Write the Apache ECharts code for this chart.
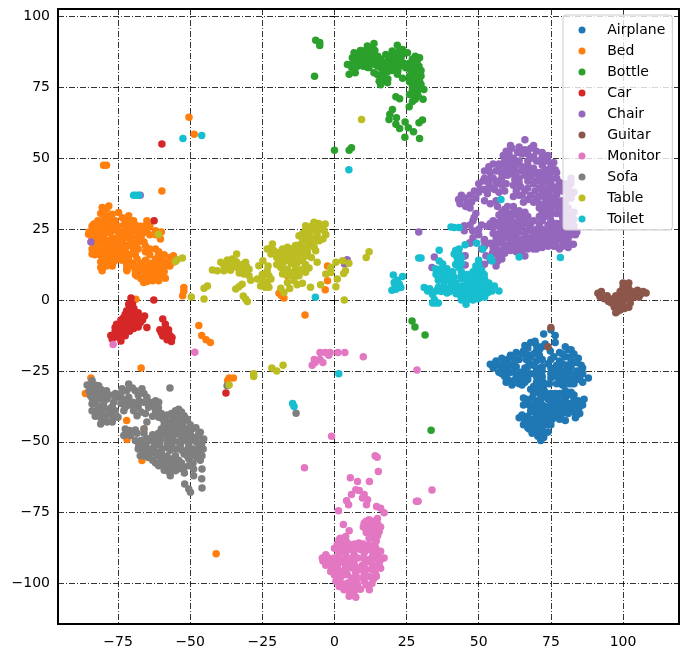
<!DOCTYPE html>
<html>
<head>
<meta charset="utf-8">
<script src="https://cdn.jsdelivr.net/npm/echarts@6/dist/echarts.min.js"></script>
<style>
  html, body { margin: 0; padding: 0; background: #fff; }
  #chart { width: 687px; height: 659px; }
</style>
</head>
<body>
<div id="chart"></div>
<script>
// values
const xTicks = [-75, -50, -25, 0, 25, 50, 75, 100];
const yTicks = [-100, -75, -50, -25, 0, 25, 50, 75, 100];
const names = ["Airplane", "Bed", "Bottle", "Car", "Chair", "Guitar", "Monitor", "Sofa", "Table", "Toilet"];
const colors = ["#1f77b4", "#ff7f0e", "#2ca02c", "#d62728", "#9467bd", "#8c564b", "#e377c2", "#7f7f7f", "#bcbd22", "#17becf"];

const airplane = [
  [54,-22.6],[56,-21.5],[55,-24],[57.5,-23],[58,-20.5],[60,-21],[59.5,-24.5],[57,-25.5],[59,-27],[61,-25.5],[62,-28.5],[59.5,-29],[61.5,-30],[64,-29.5],[66,-29],[63,-27],[64.5,-25.5],[62,-23],[61,-19.5],[63,-18.5],[64,-21],[65.5,-18],[66,-16],[68,-15],[69.5,-14.5],[66.5,-21],[66,-24],[68,-26],[69,-23],[68,-20],[70,-18],[70,-16],[72,-16.5],[73,-15.5],[72.5,-12],[75,-10.5],[76.5,-12.5],[76.5,-15],[74.8,-18],[76,-20],[74,-22.5],
  [78,-18.5],[81,-17.5],[80,-20],[78,-21.5],[83,-19],[84.5,-20.5],[85.5,-23],[83,-22],[80.5,-23],[78,-24],[77,-27],[79,-26],[81.5,-25.5],[84,-25],[86,-26],[88,-27.5],[86,-29],[84,-28],[82,-28],[80,-29],[77,-29.5],
  [72,-27],[71,-30],[72.5,-31.5],[74.5,-29.5],[70,-32],[69,-30.5],
  [65.5,-34.5],[68,-31.5],[66.5,-35],[68.5,-34.5],[67.5,-37],[65.5,-37],[69,-37],[71.5,-35],[73,-34],[75,-36],[73,-37.5],[71,-38.5],[68,-39],[70,-41],[72,-41],[74,-40],[76,-38.5],[75.5,-42],
  [64,-41.5],[66,-42],[65.5,-44],[68,-43],[70,-43],[72,-44],[67.5,-45.5],[69.5,-46],[71.5,-46.5],[74,-44],[74,-46.5],[70.5,-48],[72.5,-48.5],[71.5,-49.5],[73,-47],
  [78,-33],[80,-32],[82,-32.5],[80,-34.5],[77.5,-35.5],[77,-38],[79,-37],[81,-36.5],[83,-35],[84.5,-35.5],[86.5,-35],[86,-37],[84.5,-38.5],[83.5,-41.5],[82,-39],[78,-40],[80,-42.5],[76.5,-33],[75,-33],
  [67,-17],[71,-17.5],[80,-16.5],[82,-17.5],[62,-20],[65,-19],[67,-19.5],[69,-19],[71,-19.5],[79,-19],[82,-20],[56,-23],[59,-22],[62.5,-21.5],[67.5,-22],[70,-21.5],[72,-21],[75,-21],[82,-21.5],[84,-22],
  [55.5,-22.5],[58,-24],[60.5,-23],[63,-23.5],[67,-23.5],[70,-24],[72,-23.5],[75,-24],[77,-23],[79,-22.5],[82,-23.5],[86,-24],[58,-26],[60,-26],[62,-25],[65,-26.5],[67,-26],[70,-25.5],[72,-25],[75,-26],[77,-25],[80,-25],[83,-26.5],[85,-27],
  [60,-28],[64,-27.5],[66,-27],[70,-27],[72,-28.5],[75,-27.5],[78,-28],[80,-27],[82,-29.5],[85,-28],[63,-29],[65,-30],[67,-28],[70,-29],[73,-29.5],[79,-30],[81,-29.5],[83,-29.5],
  [69,-33],[71,-33],[73,-32.5],[74.5,-33.5],[77,-34],[79,-33.5],[81,-33.5],[83,-33.5],[67,-35.5],[70,-35.5],[74,-35],[76,-35],[78,-36],[80,-36],[82,-36.5],[84,-37],[70,-37.5],[72,-37],[74,-38],[76,-37],[78,-38],[80,-38],[82,-37.5],[85,-37.5],
  [69,-39.5],[71,-40],[73,-39.5],[75,-40.5],[77,-40],[79,-40],[81,-40],[83,-39.5],[85,-40],[65,-40.5],[67,-41],[69,-42],[74,-42],[76,-41],[78,-42],[84,-40.5],[66,-43],[68,-44.5],[71,-42.5],[73,-43],[75,-44],[67,-45],[70,-45],[72,-45.5],[68.5,-47],[71,-47.5]
];
const bed = [
  [-78.2,33.2],[-80.5,32.6],[-80,29.7],[-77,30.3],[-74.8,30.9],[-71.3,29.7],[-65,28],[-67.3,26],[-69.6,28],[-72.5,28],[-83.4,26.8],[-81,27.4],[-78.8,26.8],[-76.5,26.2],[-85.2,23.2],[-82.9,23.8],[-80.5,24.4],[-78.2,23.8],[-74.8,23.8],[-72.5,25],[-70.1,24.4],[-67.8,23.8],[-65,24.4],[-62,24.4],[-60.3,21.5],
  [-83,21],[-81,20.9],[-78.5,21],[-76.5,20.5],[-73.5,21],[-70.5,21],[-68.2,20.4],[-84,16.2],[-81.8,17.5],[-79.5,18],[-77,17.5],[-74.8,18],[-72.5,17.5],[-69.6,17.5],[-65.5,19.1],[-65.5,17],[-62,18],[-60.9,17],
  [-81,11.5],[-80.5,10.3],[-78.2,13],[-76.5,13.5],[-73.6,14],[-71.3,14],[-68.4,14.5],[-65.5,14],[-62,14.4],[-59.8,15],[-55.8,15.6],[-55.6,13.4],[-80,14],[-63,11.5],[-60.9,12],[-58.6,12.6],[-71.9,10.3],[-68.4,8.5],[-66.1,6.2],[-64.4,8.5],[-62,8],[-60.9,6.8],[-58.6,7.7],[-67,10.3],[-65.3,10.3],
  [-52.2,4.4],[-52.2,3.2],[-52.6,1.5],[-59.8,38.5],[-68.8,0.3],
  [-80,47.5],[-79,47.5],[-50.4,64.5],[-48.6,58.5],[-47,-9],[-44.5,-14],[-43,-15],[-46,-12.5],[-36.5,-27.5],[-35,-27.5],[-41,-89.5],
  [-84.4,-27.5],[-86.3,-33],[-67,-24],[-72,-42.5],[-71.9,-49.2],[-66.7,-56.6],[-66,-45.4],[-37,-28.4],
  [-19.2,2.4],[-17.5,0.7],[-18.4,1.6],[-2.4,12],[-2.4,6.8],[-3.2,3.6],[-16.3,8.6],[-10.2,-5.3],
  [-79,32],[-81,30.5],[-78.5,29.5],[-82,28],[-80,28],[-78,28],[-76,28],[-73.5,29],[-71,28],[-69,26.5],[-84,26],[-82,26],[-80,26],[-78,25.5],[-75,26],[-73,26.5],[-71,26],[-66,26],[-64,26],[-85,24],[-83,24.8],[-81,23],[-79,24.8],[-77,24.5],[-75.5,24.8],[-73,23.5],[-71,23],[-69,24.5],[-66.5,23.5],[-64,23],[-62,23],[-60,24],
  [-84,22],[-82,22],[-80,22.3],[-77,22],[-75,22],[-73,22],[-71,21.5],[-69,22],[-67,22],[-83,20],[-80,19.8],[-78,19.5],[-75,20],[-73,19.5],[-71,19.5],[-69,19],[-66,20.5],[-84,18],[-82,18.8],[-80,16.5],[-78,18],[-76,18.8],[-74,16.5],[-72,19],[-70,18.8],[-68,18],[-64,18],
  [-83,16],[-81,15.8],[-79,16],[-77,15.8],[-75,16],[-73,15.8],[-71,16],[-69,16],[-64,16],[-61,15.8],[-59,16],[-57,15],[-81,13.5],[-79,14],[-77,14.5],[-75,14.5],[-72.5,15],[-70,13],[-67,13],[-64,13],[-61,14],[-59,13.5],[-57,13.5],
  [-79,12],[-77,12],[-72,12.5],[-70,12],[-68,12],[-65,12],[-62,12.5],[-59,11.5],[-57,12],[-72,11],[-69,10.5],[-66,11],[-63,10],[-61,10],[-59,10],[-69,9],[-66,8.5],[-63,8.5],[-60,8.5],[-65,6.5],[-63,6.8],[-67,7.5]
];
const bottle = [
  [-6.5,91.6],[-5.1,90.8],[-5.1,89.8],[-6.9,78.9],
  [13.7,90.5],[11.4,89.6],[10.3,87.8],[6.8,87.2],[6.2,85.5],[4.5,83.1],[6.8,83],[9,86],[12,86.6],[13.2,87.8],[12.6,84.3],[10.9,83.7],[9.1,83.7],[14.3,83],[13.7,80.2],[16,81.9],[17.8,86.6],[20,87.8],[21.8,89.9],[23.6,88.4],[25.3,87.2],[18.4,84.3],[21.3,84.9],[20,82.5],[22.4,82.5],[24.7,81.9],[17,81],[18.4,80.5],[15.5,77.2],[18.4,76.6],[16,75.9],[5.1,79.6],[7.2,80.2],[21.8,79.6],[23.6,78.2],[11.5,82],
  [27,85],[28.7,84.5],[27.5,83],[29.3,82.5],[27,80.5],[28.7,80],[27.5,77.8],[29.5,77.2],[27,75.5],[29.3,75],[31,74.3],[27,74.3],[28.7,73.5],[27.7,72],[28,70.8],[30.7,70.8],
  [21.3,71.7],[22.6,71],[25.9,68.2],[20.1,67.2],[19.2,65.5],[18.9,63.7],[21.5,64.3],[21.3,62],[22.6,60.5],[24.5,62.8],[25.6,60.8],[27.4,59.4],[29.3,62.5],[30.5,63.5],[24.4,57.4],[29.5,57],
  [0,52.8],[5.1,52.8],[5.9,53.7],[26.9,-7.4],[27.9,-9.5],[31.4,-12.3],[33.5,-45.9],
  [11,88],[12.5,89],[14,88],[8,85],[10,85.5],[14,85.5],[15,86],[7,84.5],[6,82],[8,82.5],[10,82.5],[12,82],[13,84],[15.5,84],[17,83],[19,83.5],[18,82],[20,84],[22,86],[23,85],[24,83.5],[19,86],[21,87],[23.5,86.5],[15,82.5],[17,79.5],[15,79.5],[18.5,78],[16.5,77.5],[20,81],[22,81],
  [26,83.5],[28,86],[29.5,85.5],[26,81.5],[28,81.5],[30,81],[26,79],[28,78.8],[30,79],[26,77],[28,76.5],[30,76],[26,72.5],[29,72],[27,70],
  [9,88],[11,87],[7.5,86],[9.5,84.5],[5.5,83],[12,85.5],[14,84],[16,85],[16,83.5],[19,85],[21,83.5],[23,83],[21.5,86],[22.5,88]
];
const car = [
  [-70.5,0.7],[-62.6,0],[-62.5,28],[-71.3,-1.5],[-70,-1.5],[-72,-3.8],[-70.8,-3.8],[-69.6,-4.4],[-73.1,-6.2],[-71.3,-6.2],[-69.6,-6.2],[-67.8,-6.2],[-65.8,-5.6],[-74.2,-8.5],[-72.5,-8.5],[-70.8,-8.5],[-69,-8.5],[-67.3,-8],[-65,-9.7],[-76,-9.7],[-76,-12],[-77,-13.8],[-74.2,-11.4],[-72.5,-10.8],[-69.6,-10],[-72.5,-12.6],[-74,-14.4],
  [-59.5,-6.7],[-58.6,-8.5],[-60,-11.5],[-58.3,-12],[-56.3,-13.2],[-56.5,-14.6],[-58,-14],[-59.5,-12.7],[-59.8,55],[-37.6,-32.8],
  [-71,-2.5],[-69.5,-3],[-72.5,-5],[-71,-5],[-69,-5.5],[-68,-4.5],[-74,-7],[-72.5,-7],[-70.5,-7],[-68.5,-7],[-66.5,-7],[-75.5,-8.5],[-73.5,-9.5],[-71.5,-9.5],[-70,-9.5],[-68,-9.5],[-75,-10.5],[-73,-12],[-71,-11],[-76,-11],[-75,-13],[-77.5,-12.5],[-60.5,-10.5],[-59,-10.5],[-57.5,-10.5],[-57,-12.5]
];
const chair = [
  [66,56.5],[59.5,52.5],[61.5,53.5],[63.5,52],[66,53],[68,53.5],[70,52.5],[72,50.5],[74,49],[76,48.5],[60,50],[62,50],[64,49],[68,50],[70,49],[72,47.5],[74.5,46],[76.5,46],[57,48],[58.5,47.5],[60.5,47],[62.5,46.5],[65,47],[67,47.5],[69,46.5],[71,45],[73,44],[75,43],[77,43],[53.5,47],[56,45.5],[58,44.5],[60,44],[62.5,42.5],[66,44],[68,43.5],[70,42],[72,41],[74.5,40.5],[77,40],[55,43],[57,42],[59.5,41],[64.5,40],[67,39.5],[69.5,38.5],[72,37.5],[74.5,37],[77,37],[79,38.5],[80,41],[82,43],[81.5,40.5],[83,38],[81,36.5],[79,35],[51.5,42],[53.5,41],[52,39],[55.5,39],[57,38],[59,38.5],[62,36.5],[64,37],[65.5,34.5],
  [43,35.5],[45,36],[47,37],[48.5,38.5],[45.5,33],[47.5,34.5],[49,36],[43.5,34],
  [56,35],[56.5,33],[60,33],[58,31],[60,30.5],[62,31],[64,31.5],[66,31],[58,28.5],[60,28],[62,27.5],[64,28],[66,28],[68,27],[55,28],[55,25.5],[57,26],[59,25.5],[61,24.5],[63,25],[65,26],[67,24.5],[70,25],[53,26],[51,26.5],[48,28],[49,30.5],[47,26.5],[55,23.5],[57,23.5],[59,22],[61,21.5],[63,22],[65,21.5],[67,22],[69,23],[71,22],[58,20],[60,19.5],[62,19],[64,19],[66,19.5],[68,19.5],[70,20],[55,18.5],[57,17.5],[54,20],[57.5,15],[59,16.5],[66,15.5],
  [71,34],[73,34],[75,34],[72,31],[74,31],[72,28],[75,28],[78,33],[80,33],[77,30.5],[80,31],[82,30],[77,27],[79,27.5],[81,27],[83,26],[72,25],[74,25],[76,24],[78,24],[80,24],[82,23],[83.5,23],[73,22],[75,21.5],[77,21],[79,21],[81,20.5],[82.8,19.7],[78,18],[76,19],[74,19],[72,18.5],
  [45,15.5],[46.9,20.2],[52,21.4],[52,12.6],[56.6,13.8],[54.8,16.7],[29.2,24],[34.6,15.2],[33.8,11.5],[45.3,15.6],[45.3,12.4],[47,20],[45,26.2],[48.4,29.1],[45,24.4],[47.9,24.4],[51.9,20.9],[52.5,15.6],[56,16.2],[56,13.8],
  [4.4,14.2],[3.5,12.7],[-84.4,20.5],[-67.3,37],
  [61,54.5],[64,54],[69,54.5],[58.5,51],[60.5,51.5],[65,51.5],[67,51.5],[72,52],[74,51],[59,49],[61,48.5],[63,48],[67,49],[69,50.5],[71,49],[73,49],[75,47],[55,48],[57,46.5],[59,46],[61,45.5],[63,45],[65,45.5],[67,45.5],[69,44.5],[71,43],[73,46],[75,45],[77,45],[52,45.5],[54,45],[58,43],[62,44.5],[64,43],[67,42],[69,41],[71,39.5],[73,42.5],[75,41.5],[78,41.5],[52,43],[54,43],[56,41],[58,40.5],[62,40.5],[64,41.5],[66,38.5],[68,37],[70,36],[73,39],[75,39],[77,38.5],[79,40.5],[81,38.5],[82,41.5],[50,41],[54,39.5],[50.5,39],[53,37.5],[63,38.5],[65,37],[67,35.5],[69,34.5],[71,36.5],[73,36],[75,35.5],[77,35],[80,34.5],[82,36],[52,35],[54,34],
  [44,37],[46,34.5],[47,32.5],[50,38],
  [59,32],[62,33],[63,30],[65,29.5],[67,29.5],[57,30],[59,30],[61,29],[57,27.5],[59,27],[61,26.5],[63,27],[65,27.5],[67,27],[69,28],[54,27],[56,26.5],[58,24],[60,24],[62,23.5],[64,24],[66,23.5],[68,25],[70,23.5],[56,21.5],[58,21.5],[60,22.5],[62,20.5],[64,20.5],[66,21],[68,21],[70,21.5],[72,20],[56,19.5],[59,18],[61,17.5],[63,17],[65,17.5],[67,18],[69,18],[52,19],[50,25],
  [71,32.5],[73,32.5],[75,32],[77,33],[79,31.5],[81,32.5],[83,31],[71,29.5],[73,29.5],[75,30],[79,29.5],[81,29.5],[83,28.5],[71,27],[74,26.5],[76,26],[78,25.5],[80,25.5],[82,25],[84,24],[71,23.5],[73,23.5],[75,23],[77,22.5],[79,22.5],[81,22],[75,19.5],[77,19],[79,19],[81,18.5],[73,20.5],[70,18],[58,14.5],[56,12],[54,14],[51,18],[50,23],[48,22]
];
const guitar = [
  [91.3,2.4],[92,1.2],[92.5,3],[93.5,0.5],[94.5,1.5],[95,-0.5],[96,-1],[96.5,0.5],[97.5,1.5],[98,-1],[97,-2.5],[99,-2.5],[98,-4],[97.5,-4.5],[99,-3.5],[100.5,-3],[102,-2.5],[102.5,-1],[100,-1],[99,1],[100.5,0.5],[99,3],[100,4.5],[100,6],[101,5.5],[102,6],[102,4],[100.5,2.5],[102.5,2],[103.5,1],[104,2.5],[105,3.5],[106,2],[107,3],[108,2.5],[105.5,1],[106.5,2.5],[103,3],[101.5,1],
  [75,-9.7],[74,-16.5]
];
const monitor = [
  [-10.4,-59.1],[14.1,-54.9],[14.8,-55.4],[15.2,-60.5],[5.5,-62.7],[8,-64],[12.1,-64],[7.4,-66.9],[8.6,-67.2],[5.9,-68.6],[10.3,-68.6],[11.5,-70.4],[9.7,-69.8],[11.1,-72.2],[4.2,-70.8],[4.9,-72.2],[1.4,-74.3],[14.6,-72.8],[16,-73.4],[17.2,-75],[28.4,-71],[3.1,-79.2],
  [12,-77.5],[14.9,-77],[10.3,-78.7],[13.2,-79.8],[15.5,-81.6],[12,-82.1],[13.8,-83.9],[5.1,-81.4],[3.9,-83.4],[1.6,-84.5],[3.3,-85.6],[0,-87.5],[6.2,-86.9],[8.5,-85.7],[12,-86.3],[14.3,-87.5],[16,-88.6],[17.2,-91],[-4.2,-91],[-3,-89.8],[-2.4,-92.8],[-1.3,-95.7],
  [1.6,-89.8],[3.9,-89.2],[6.8,-89.8],[10.3,-89.2],[13.2,-90.4],[1,-92.8],[3.9,-94],[6.8,-92.8],[9.7,-93.4],[13.2,-93.4],[15.5,-92.8],[16,-94.6],[1.6,-96.3],[4.5,-96.9],[7.4,-96.3],[10.3,-96.9],[14.3,-96.9],[14.5,-97.5],[0.5,-99.2],[1.6,-101],[4.5,-99.8],[7.4,-99.2],[10.3,-99.2],[12.1,-102.2],[3.3,-102.2],[5.1,-104.5],[7.4,-104.8],
  [-7.7,-23],[-6.7,-22],[-5,-18.5],[-3.2,-18.5],[-1.5,-18.5],[1.2,-18.5],[3.6,-18.5],[10,-20],[-5,-21],[-2,-19.5],[-7,-21],[-4,-22],[28.6,-24.7],[-1,-48],[33.8,-67],[29,-71],[-48.4,-18.4],[-76.7,-15.7],
  [11,-78],[13,-78],[15,-79],[10,-80],[12,-80],[14,-81],[16,-80],[11,-82],[13,-82],[15,-83],[12,-84],[14.5,-85],[2,-84],[4,-85],[1,-86],[2.5,-87],[5,-86],[7,-86],[10,-86],[12,-88],[14,-86],[1,-88],[3,-88],[5,-88],[7,-88],[9,-88],[11,-88],[13,-88.5],[15,-89.5],
  [-4,-92],[-2,-91],[0,-91],[2,-91.5],[4,-91],[6,-91],[8,-91],[10,-91],[12,-91.5],[14,-91],[16,-91.5],[-3,-93.5],[-1,-93],[1,-94],[3,-92.5],[5,-92.5],[8,-94.5],[11,-92.5],[13,-92],[15,-94],[-1,-95],[1,-95],[3,-95.5],[5,-94.5],[7,-95],[9,-95],[11,-95],[13,-95],[14,-95.5],[0,-97],[2,-98],[3,-97],[6,-98],[8,-98],[10,-98],[12,-97.5],[13.5,-98.5],[2,-99.5],[4,-101],[6,-100.5],[8,-100.5],[11,-100.5],[13,-100],[3,-100.5],[5,-102.5],[7,-102.5],[9,-102],[6,-104]
];
const sofa = [
  [-84,-28.4],[-85.7,-30],[-81.7,-30.2],[-84,-31],[-82.9,-32.5],[-80.5,-32.5],[-84.6,-33.7],[-81.7,-34.9],[-84,-36.6],[-78.8,-34.9],[-76.5,-36],[-84,-39],[-82.9,-41],[-80.5,-40.2],[-78.2,-38.4],[-81,-43.7],[-78.8,-43],[-76.8,-41.9],[-75,-41.3],
  [-75.9,-33],[-71.3,-29.6],[-73.6,-31.3],[-69,-32],[-66.7,-31.3],[-65,-34.3],[-62,-35.5],[-60.9,-36],[-73.6,-34.9],[-71.3,-34.3],[-67.8,-35.5],[-72.5,-37.8],[-69.6,-39],[-68.4,-40.8],[-64.4,-37.8],[-65.5,-40],[-62,-39],[-57,-31],
  [-58.6,-42.5],[-55.1,-39],[-55.7,-41.3],[-52.1,-40.8],[-52.7,-43.7],[-56.3,-44.3],[-58.6,-45.5],[-65,-43],[-60.9,-41.3],[-72.5,-45.5],[-73,-47.8],[-70.7,-47.8],[-68.4,-47],[-66,-47],[-65,-48.8],[-63.2,-49.6],[-49.4,-45.5],[-46.5,-46.6],[-45.3,-49],[-48.8,-48.4],[-52.1,-47.3],[-55.1,-47.3],[-58,-47.9],[-60.3,-49],
  [-67.8,-51.3],[-65.5,-51.3],[-62.6,-51.9],[-59.8,-52.5],[-56.3,-51.9],[-53.4,-51.3],[-50.5,-51.3],[-47,-51.9],[-45.9,-54.9],[-67.3,-54.9],[-64.4,-55.5],[-61.5,-54.9],[-55.1,-54.9],[-52.1,-54.3],[-49.4,-54.9],[-60.9,-58.4],[-58.6,-59],[-56.9,-62],[-55.1,-60.2],[-52.1,-59],[-50.5,-58.4],[-48.8,-59.6],[-45.9,-59.6],[-46,-63],[-48.8,-62],[-51.9,-64.9],[-50.5,-66.6],[-49.9,-67.8],[-45.9,-66.3],
  [-13.3,-39.9],[-37.2,-30.2],
  [-85,-32],[-83,-30],[-81,-31.5],[-79,-32],[-74,-33],[-72,-32],[-70,-31],[-68,-33.5],[-66,-33],[-84,-34.5],[-82,-33.5],[-80,-34],[-78,-33.5],[-76,-34.5],[-72,-35.5],[-70,-36],[-68,-37.5],[-66,-36],[-64,-36],[-83,-36],[-82,-37.5],[-80,-36.5],[-77,-37.5],[-74,-36.5],[-71,-37],[-67,-39.5],[-63,-37],[-82,-39],[-80,-38],[-76,-39],[-73,-39],[-69,-38],[-63,-41],[-61,-38],[-81,-41.5],[-79,-40.5],[-77,-40],[-79.5,-42],[-77,-43],
  [-60,-40],[-58,-40.5],[-56,-42.5],[-54,-41],[-54,-38.5],[-51,-42],[-54,-43],[-57,-43],[-59,-44],[-55,-45],[-53,-45.5],[-51,-45.5],[-72,-47],[-71,-46],[-69,-45.8],[-66,-45.5],[-63,-47.5],[-57,-46],[-47,-48],[-50,-47],[-53,-48.5],[-56,-48.5],[-59,-47.5],[-62,-49],[-69,-49.5],[-67,-49.5],[-65,-50],[-58,-50],[-56,-50],[-54,-50],[-52,-49.5],[-50,-49.5],[-48,-50],[-46,-50.5],
  [-68,-52.5],[-66,-53],[-64,-52.5],[-62,-53.5],[-60,-54],[-57,-53],[-55,-52.5],[-53,-53],[-51,-52.8],[-49,-52.5],[-47,-53.5],[-45.5,-52.5],[-66,-55],[-63,-56.5],[-60,-56],[-58,-55],[-56,-56],[-54,-56.5],[-50.5,-56],[-47.5,-55.5],[-62,-57.5],[-59,-57.5],[-53,-57.5],[-49,-57.5],[-56,-58],[-57.5,-60.5],[-54,-59.5],
  [-50,-44],[-48,-45],[-47,-47],[-50.5,-48.5],[-54,-46.5],[-57,-44.5],[-55,-43.5],[-52,-42.5],[-53,-39.5],[-56.5,-40],[-59.5,-42],[-58,-52],[-60.5,-51],[-62,-50.5],[-63.5,-54],[-65,-54],[-68,-50],[-61,-47],[-60,-45.5],[-51,-55],[-48,-54.5],[-46.5,-56.5],[-58,-57],[-55,-58],[-52,-61],[-57,-58.5],[-59,-60]
];
const table = [
  [-7.1,27.4],[-10,26.2],[-4.7,26.2],[-3.2,26.8],[-7.1,25],[-3.6,24.5],[-10,24.5],[-12.3,22.7],[-8.8,22.7],[-6,23.3],[-3,23],[-10,20.9],[-7.1,20.3],[-5.3,20.9],[-8.8,19.2],[-6.5,17.4],[-9.4,16.8],[-21.5,19.8],[-23.3,18],[-22,16.2],[-16.3,18.6],[-13.5,19.2],[-11.1,18.6],[-19.2,16.8],[-16.9,16.2],[-14.6,16.8],[-12.3,16.2],[-19.2,13.9],[-16.9,13.9],[-14,14.5],[-11.1,13.9],[-6,13.3],[-18.6,11.5],[-16.3,10.9],[-13.5,11.5],[-11.1,10.9],[-8.8,11.3],[-18,9.2],[-15.2,8.6],[-12.3,8.6],[-10,9.8],
  [-16.3,6.2],[-14,6.8],[-12.9,5.4],[-11.1,5.9],[-15.5,4.1],[-18.6,4.2],[-17.5,2.7],[-8.3,4.5],[-4.8,5.4],
  [-23.3,10.3],[-22.7,8.6],[-25,7],[-26.7,7.4],[-23.3,6.2],[-22,7.4],[-25.6,5],[-22.7,4.5],[-24.8,13.9],[-26.2,12.1],
  [-33.9,16.2],[-35.4,14.5],[-37.1,14.1],[-39.4,13.3],[-42.3,10.6],[-40.6,10.3],[-38.3,10.3],[-38.3,12],[-35.4,12.1],[-33.7,11.5],[-30.8,13.3],[-32,10.9],[-29.6,10.9],[-31.4,9.2],[-29.6,8.6],[-29,7],[-32,5.6],[-34.2,3.9],[-33.1,4.7],[-45.2,4.2],[-44,5],[-45.2,0.4],[-31.6,1.4],[-30.2,-0.5],[-30.8,0.4],
  [0.5,13.3],[2.8,13.9],[5,13],[-3,9.2],[-1.3,11.5],[-1.3,9.7],[1,7.4],[0.5,4.7],[3.8,10.3],[3.2,9.4],[12,17],[11,15],[3.4,0],[-49.6,1.1],[-61,23.2],[-55.1,13.6],[-52.7,14.8],[-54.5,14.2],
  [-21.7,-24],[-20,-25],[-28,-26],[-28,-27],[-17.8,-23],[9.4,63.7],[-36.5,-30],
  [-8,26],[-5.5,25],[-5.5,27],[-8.5,24],[-11,23.5],[-6.5,22],[-4,21.5],[-11,21.5],[-9,21],[-12,19.5],[-9.5,18],[-7,18.5],[-22.5,18],[-21,17.5],[-18,18],[-15,18],[-13,18],[-10.5,17.5],[-20,15],[-18,15.5],[-15.5,15],[-13,15],[-10,15.5],[-8,15],[-20,12.5],[-18,12.7],[-15,13],[-13,13],[-10,12.5],[-17.5,10],[-14,10],[-12,10],[-16.5,9],[-13.5,9],[-23,12],
  [-37,12],[-36,10.5],[-34,13.5],[-32,12.5],[-30.5,11.8],[-33,9.5],[-24,9],[-25,9],[-24.5,6],[-24,4.5]
];
const toilet = [
  [20.4,8.8],[23.6,8.3],[20.7,6.2],[22.5,5.6],[19.9,3.5],[21.3,3.8],[23,4.4],[21,5],[21.8,7],[29.2,14.8],[30,14.8],[36.3,17.6],
  [31.1,4.4],[32.3,3.2],[35.2,3.2],[34,-1],[34.6,0.2],[36,-1],[38.6,3.8],[40.4,5],[36.3,13.8],[37.5,12.7],[35.2,9.1],[36.9,9.7],[39.2,9.1],[41.5,8],[43.2,11.5],[41.5,16.2],[43.2,18],[45.3,19.5],[49.3,20],[51.4,18],[54.6,13.8],[54,15],[43.2,16],[42.7,13.8],[46.1,9],[50.2,11.5],[51.9,9],[52.5,6.2],[55.4,5],[57,3.2],[54.6,3.2],[49.8,0.5],[45.6,-1.5],[43.9,1],[42.2,2.2],[48.7,2.2],[46,3],[44,5],[48,5.5],[50,7],[46,6.5],[44,7.5],[51,3.5],[52,1],[36,7],[38,6],[41.5,25.6],[43.2,25.6],[40.4,25.8],[47,6],[49,8.5],
  [5,46],[-52.5,57],[-46,58],[-69.6,37],[-68.8,37],[-67.8,37],[-6.6,1],[1.5,-26],[-14.5,-36.5],[-14,-37.5],[57.7,35.5],[64,15.2],[78.3,15],
  [35,11],[37,11],[39,11],[41,10],[42,12.5],[44,10],[36,8],[38,8],[40,7],[42,6],[44,9],[42,17.5],[42.5,15],[44,15],[44,13],[45,8],[48,8],[49.5,10],[50,12.5],[51,10.5],[52,7.5],[50,5],[49,3.5],[46,1],[44,3],[42,4],[40,3],[37,3],[36,4.5],[33,4],[34,2],[45,5],[47,4],[53,5],[54,4],[50,2],[48,0],[46,0],[44,0],[35,-1],[52,3],[53.5,6],[48,10],[49,12],[50,14],[38,4.5],
  [50,9],[51.5,5],[47,2],[45,2],[43,3],[41,4.5],[39,2.5],[47,0.5],[51,1.5],[53,2.5],[48,6.5],[46,4.5],[49,6]
];
const seriesData = [airplane, bed, bottle, car, chair, guitar, monitor, sofa, table, toilet];

const chart = echarts.init(document.getElementById("chart"), null, { renderer: "canvas" });
const fontFamily = "DejaVu Sans";
const minusLabel = (v) => String(v).replace("-", "\u2212");
const gridLine = { show: true, lineStyle: { color: "#000", width: 0.8, type: [6, 2, 1, 2] } };

const option = {
  animation: false,
  backgroundColor: "#fff",
  color: colors,
  grid: { show: true, left: 58, right: 8, top: 9, bottom: 35, borderColor: "#000", borderWidth: 2, backgroundColor: "transparent" },
  legend: {
    orient: "vertical",
    left: 563,
    top: 15,
    padding: [8, 7, 4, 15.5],
    itemWidth: 40.5,
    itemHeight: 7,
    itemGap: 7,
    icon: "circle",
    data: names,
    backgroundColor: "rgba(255,255,255,0.8)",
    borderColor: "#ccc",
    borderWidth: 1,
    borderRadius: 3,
    textStyle: { fontFamily: fontFamily, fontSize: 14, color: "#000", lineHeight: 14 },
  },
  xAxis: {
    type: "value",
    min: -95.8,
    max: 119.4,
    axisLine: { show: false },
    axisTick: { show: true, length: 5, lineStyle: { color: "#000", width: 1 }, customValues: xTicks },
    axisLabel: { color: "#000", fontFamily: fontFamily, fontSize: 14, margin: 11, customValues: xTicks, formatter: minusLabel },
    splitLine: gridLine,
  },
  yAxis: {
    type: "value",
    min: -114.25,
    max: 102.65,
    axisLine: { show: false },
    axisTick: { show: true, length: 5, lineStyle: { color: "#000", width: 1 }, customValues: yTicks },
    axisLabel: { color: "#000", fontFamily: fontFamily, fontSize: 14, margin: 8, customValues: yTicks, formatter: minusLabel },
    splitLine: gridLine,
  },
  series: names.map((name, i) => ({
    name: name,
    type: "scatter",
    symbol: "circle",
    symbolSize: 7.5,
    data: seriesData[i],
    itemStyle: { color: colors[i], opacity: 1 },
  })),
};
chart.setOption(option);
</script>
</body>
</html>
